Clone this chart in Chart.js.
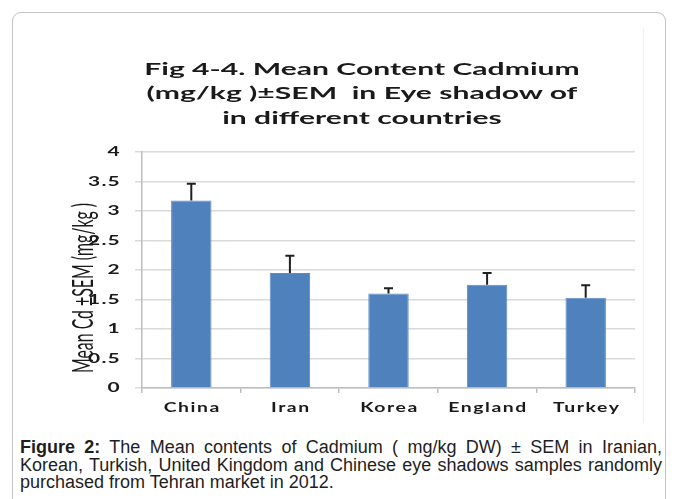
<!DOCTYPE html>
<html>
<head>
<meta charset="utf-8">
<script src="https://cdn.jsdelivr.net/npm/chart.js@4/dist/chart.umd.min.js"></script>
<style>
  html, body { margin: 0; padding: 0; background: #fff; }
  body { width: 677px; height: 499px; position: relative; overflow: hidden; }
  #frame { position: absolute; left: 12px; top: 12px; width: 652px; height: 520px;
           border: 1px solid #c4c4c4; border-radius: 9px; }
  #edge { position: absolute; left: 643px; top: 28px; width: 1px; height: 395px; background: #f0f0f0; }
  #wrap { position: absolute; left: 0; top: 0; width: 677px; height: 430px; }
  #title { position: absolute; left: 192px; width: 340px; top: 57px; text-align: center;
           font-family: Lato, "Open Sans", sans-serif; font-weight: bold; font-size: 17.5px;
           line-height: 24.3px; color: #1a1a1a; white-space: nowrap;
           transform: scaleX(1.72); transform-origin: 170px 0; }
  #caption { position: absolute; left: 20px; top: 439px; width: 642px;
             font-family: "Liberation Sans", Arial, sans-serif;
             font-size: 18px; line-height: 17.5px; color: #1e1e1e; text-align: justify; }
</style>
</head>
<body>
<div id="frame"></div>
<div id="edge"></div>
<div id="wrap"><canvas id="c" width="677" height="430"></canvas></div>
<div id="title">Fig 4-4. Mean Content Cadmium<br>(mg/kg )±SEM&nbsp; in Eye shadow of<br>in different countries</div>
<div id="caption"><b>Figure 2:</b> The Mean contents of Cadmium ( mg/kg DW) ± SEM in Iranian, Korean, Turkish, United Kingdom and Chinese eye shadows samples randomly purchased from Tehran market in 2012.</div>
<script>
const countries = ['China', 'Iran', 'Korea', 'England', 'Turkey'];
const meanCd = [3.18, 1.95, 1.60, 1.75, 1.53];
const semCd = [0.28, 0.29, 0.09, 0.20, 0.21];
const yTicks = [0, 0.5, 1, 1.5, 2, 2.5, 3, 3.5, 4];
const yTitle = 'Mean Cd ±SEM (mg/kg )';

// the source picture is stretched sideways, so labels get a horizontal scale
const stretch = 1.55;

const errorBars = {
    id: 'errorBars',
    afterDatasetsDraw(chart) {
        const ctx = chart.ctx;
        const y = chart.scales.y;
        const meta = chart.getDatasetMeta(0);
        ctx.save();
        ctx.strokeStyle = '#1f1f1f';
        ctx.lineWidth = 2;
        meta.data.forEach(function(bar, i) {
            const top = y.getPixelForValue(meanCd[i] + semCd[i]);
            const base = y.getPixelForValue(meanCd[i]);
            ctx.beginPath();
            ctx.moveTo(bar.x, base);
            ctx.lineTo(bar.x, top);
            ctx.moveTo(bar.x - 4.5, top);
            ctx.lineTo(bar.x + 4.5, top);
            ctx.stroke();
        });
        ctx.restore();
    },
    afterDraw(chart) {
        const ctx = chart.ctx;
        const x = chart.scales.x;
        const y = chart.scales.y;
        ctx.save();
        ctx.fillStyle = '#1a1a1a';
        ctx.font = 'bold 13.5px Lato';
        ctx.letterSpacing = '0.8px';
        yTicks.forEach(function(v) {
            ctx.save();
            ctx.translate(121, y.getPixelForValue(v));
            ctx.scale(stretch, 1);
            ctx.textAlign = 'right';
            ctx.textBaseline = 'middle';
            ctx.fillText(String(v), 0, 0);
            ctx.restore();
        });
        ctx.font = 'bold 12.5px Lato';
        ctx.letterSpacing = '1px';
        countries.forEach(function(c, i) {
            ctx.save();
            ctx.translate(x.getPixelForValue(i) + 1, 412);
            ctx.scale(stretch, 1);
            ctx.textAlign = 'center';
            ctx.textBaseline = 'alphabetic';
            ctx.fillText(c, 0, 0);
            ctx.restore();
        });
        // rotated axis title
        ctx.letterSpacing = '0px';
        ctx.font = '17px Lato';
        const w = ctx.measureText(yTitle).width;
        ctx.translate(93, 288);
        ctx.rotate(-Math.PI / 2);
        ctx.scale(170 / w, 1.7);
        ctx.textAlign = 'center';
        ctx.textBaseline = 'alphabetic';
        ctx.fillText(yTitle, 0, 0);
        ctx.restore();
    }
};

const ctx = document.getElementById('c').getContext('2d');
new Chart(ctx, {
    type: 'bar',
    data: {
        labels: countries,
        datasets: [{
            data: meanCd,
            backgroundColor: '#4f81bd',
            borderColor: '#5b8cc6',
            borderWidth: 1,
            barPercentage: 0.41,
            categoryPercentage: 1
        }]
    },
    options: {
        responsive: false,
        animation: false,
        layout: { padding: { left: 60, right: 42, top: 152, bottom: 12 } },
        plugins: { legend: { display: false }, tooltip: { enabled: false } },
        scales: {
            x: {
                afterFit: function(s) { s.height = 30; },
                grid: { offset: true, drawOnChartArea: false, drawTicks: true, tickLength: 5, color: '#bdbdbd', lineWidth: 1.5 },
                border: { color: '#bdbdbd', width: 1.5 },
                ticks: { display: false }
            },
            y: {
                min: 0,
                max: 4,
                afterFit: function(s) { s.width = 82; },
                afterBuildTicks: function(s) { s.ticks = yTicks.map(function(v) { return { value: v }; }); },
                grid: { color: '#d9d9d9', lineWidth: 1.5, tickLength: 7 },
                border: { color: '#bdbdbd', width: 1.5 },
                ticks: { display: false }
            }
        }
    },
    plugins: [errorBars]
});
</script>
</body>
</html>
